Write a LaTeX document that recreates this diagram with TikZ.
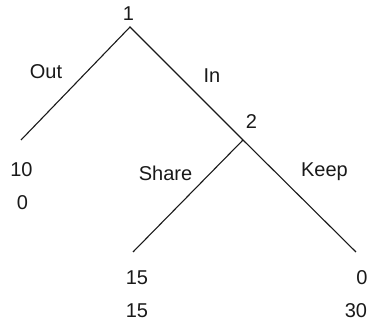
\documentclass[tikz,border=0pt]{standalone}
\usepackage{fontspec}
\setmainfont{Liberation Sans}
\begin{document}
\begin{tikzpicture}[x=1pt,y=-1pt,
  edge/.style={line width=1.1pt,draw=black!90},
  lbl/.style={anchor=base,inner sep=0pt,font=\fontsize{20}{22}\selectfont,text=black!90}]
\useasboundingbox (0,0) rectangle (368,321);
\coordinate (n1) at (130,27);
\coordinate (n2) at (243,140);
\coordinate (lout) at (21,140);
\coordinate (lshare) at (133,252);
\coordinate (lkeep) at (356,252);
\draw[edge] (lout) -- (n1) -- (n2) -- (lkeep);
\draw[edge] (n2) -- (lshare);
\node[lbl] (t1) at (128.5,21) {1};
\node[lbl] (tout) at (46,79) {Out};
\node[lbl] (tin) at (212,83) {In};
\node[lbl] (t2) at (251.5,129) {2};
\node[lbl] (pa1) at (21.5,177) {10};
\node[lbl] (pa2) at (22.5,210) {0};
\node[lbl] (tshare) at (165.5,181) {Share};
\node[lbl] (tkeep) at (324.5,177) {Keep};
\node[lbl] (pb1) at (137,285) {15};
\node[lbl] (pb2) at (137,318) {15};
\node[lbl] (pc1) at (362,285) {0};
\node[lbl] (pc2) at (356,318) {30};
\end{tikzpicture}
\end{document}
